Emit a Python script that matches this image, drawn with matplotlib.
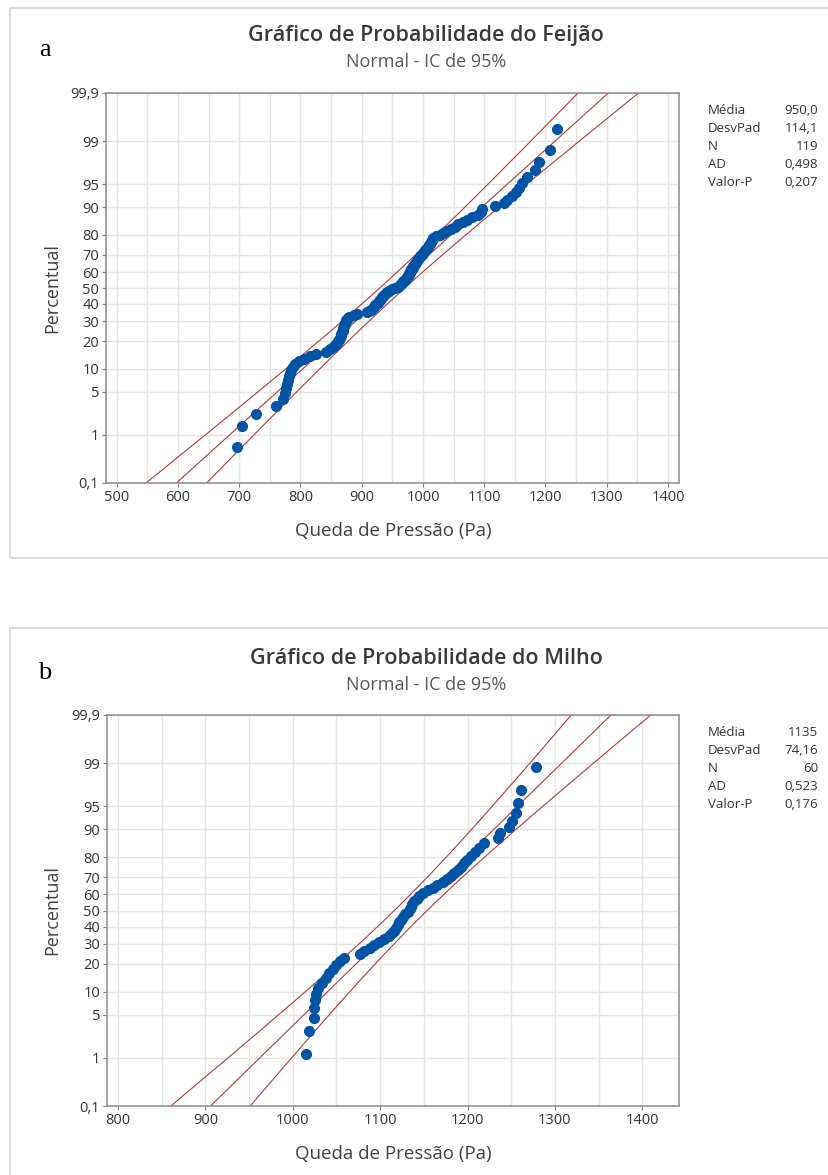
from statistics import NormalDist
import numpy as np
import matplotlib
matplotlib.use('Agg')
import matplotlib.pyplot as plt
from matplotlib.patches import Rectangle

plt.rcParams['font.family'] = ['Open Sans', 'DejaVu Sans']

# dados (Queda de Pressão, Pa), em ordem crescente
feijao_x = [696, 705, 728, 760, 772, 774, 776, 778, 779, 781,
            783, 785, 788, 791, 798, 806, 815, 826, 842, 848,
            853, 857, 859, 861, 863, 864, 866, 867, 868, 869,
            870, 870, 871, 872, 873, 874, 875, 877, 880, 888,
            893, 908, 912, 915, 918, 920, 922, 924, 926, 928,
            930, 932, 933, 935, 937, 939, 942, 945, 950, 955,
            960, 962, 964, 966, 968, 970, 972, 974, 975, 977,
            978, 979, 980, 981, 983, 984, 986, 987, 989, 990,
            992, 994, 996, 998, 1000, 1002, 1004, 1006, 1008, 1010,
            1011, 1013, 1014, 1016, 1022, 1028, 1033, 1038, 1045, 1052,
            1058, 1066, 1072, 1080, 1090, 1094, 1097, 1117, 1133, 1138,
            1145, 1152, 1157, 1162, 1170, 1183, 1190, 1207, 1219]
milho_x = [1015, 1019, 1024, 1024, 1025, 1027, 1029, 1033, 1038, 1042,
           1046, 1050, 1054, 1059, 1077, 1082, 1088, 1093, 1099, 1104,
           1110, 1114, 1116, 1118, 1120, 1122, 1124, 1126, 1129, 1132,
           1134, 1135, 1137, 1139, 1142, 1145, 1149, 1155, 1160, 1165,
           1172, 1177, 1181, 1185, 1189, 1193, 1196, 1199, 1204, 1208,
           1213, 1219, 1235, 1237, 1247, 1251, 1255, 1258, 1261, 1278]

# estatísticas mostradas na tabela
stat_names = ['Média', 'DesvPad', 'N', 'AD', 'Valor-P']
feijao_stats = ['950,0', '114,1', '119', '0,498', '0,207']
milho_stats = ['1135', '74,16', '60', '0,523', '0,176']
feijao_mean, feijao_sd = 950.0, 114.1
milho_mean, milho_sd = 1135.0, 74.16

pct_ticks = [0.1, 1, 5, 10, 20, 30, 40, 50, 60, 70, 80, 90, 95, 99, 99.9]
pct_labels = ['0,1', '1', '5', '10', '20', '30', '40', '50', '60', '70',
              '80', '90', '95', '99', '99,9']

W, H = 829, 1175
nd = NormalDist()


def fx(px):
    return px / W


def fy(py):
    return 1 - py / H


def prob_plot(ax, xs, mean, sd, xlim, xmajor):
    n = len(xs)
    # posição de Minitab (mediana de Benard)
    z = [nd.inv_cdf((i + 1 - 0.3) / (n + 0.4)) for i in range(n)]
    zlo, zhi = nd.inv_cdf(0.001), nd.inv_cdf(0.999)

    # reta ajustada e IC de 95%
    zz = np.linspace(zlo, zhi, 200)
    xfit = mean + sd * zz
    half = 1.96 * sd * np.sqrt(1.0 / n + zz ** 2 / (2.0 * (n - 1)))
    for xl in (xfit - half, xfit, xfit + half):
        ax.plot(xl, zz, color='#b03a3a', lw=0.8, zorder=2)

    ax.plot(xs, z, 'o', color='#0054a6', ms=7, mec='#0054a6', zorder=3)

    ax.set_xlim(*xlim)
    ax.set_ylim(zlo, zhi)
    ax.set_xticks(xmajor)
    ax.set_xticklabels([str(v) for v in xmajor])
    ax.set_xticks([v + 50 for v in xmajor[:-1]], minor=True)
    ax.set_yticks([nd.inv_cdf(p / 100.0) for p in pct_ticks])
    ax.set_yticklabels(pct_labels)
    ax.grid(True, which='both', color='#e4e4e4', lw=1.0, zorder=0)
    ax.set_axisbelow(True)
    ax.tick_params(which='major', length=3, width=0.8, color='#808080',
                   labelsize=10.5, labelcolor='#333333', pad=2)
    ax.tick_params(which='minor', length=0)
    for s in ax.spines.values():
        s.set_color('#8a8a8a')
        s.set_linewidth(1.1)


fig = plt.figure(figsize=(W / 100, H / 100), dpi=100)

# molduras dos dois painéis
fig.add_artist(Rectangle((fx(10), fy(558)), (W - 5) / W, 550 / H,
                         transform=fig.transFigure, fill=False,
                         ec='#d6d6d6', lw=1.2))
fig.add_artist(Rectangle((fx(10), fy(1185)), (W - 5) / W, 557 / H,
                         transform=fig.transFigure, fill=False,
                         ec='#d6d6d6', lw=1.2))

ax1 = fig.add_axes([fx(106), fy(483), 573 / W, 390 / H])
prob_plot(ax1, feijao_x, feijao_mean, feijao_sd, (482.6, 1418),
          list(range(500, 1401, 100)))

ax2 = fig.add_axes([fx(107), fy(1106), 572 / W, 391 / H])
prob_plot(ax2, milho_x, milho_mean, milho_sd, (787.4, 1442),
          list(range(800, 1401, 100)))

panels = [('a', 'Gráfico de Probabilidade do Feijão', feijao_stats, 0, 93, 483),
          ('b', 'Gráfico de Probabilidade do Milho', milho_stats, 623, 715, 1106)]
for letter, title, stats, dy, top, bot in panels:
    fig.text(fx(426), fy(35 + dy), title, ha='center', va='center',
             fontsize=15.5, fontweight='semibold', color='#3a3a3a')
    fig.text(fx(426), fy(62 + dy), 'Normal - IC de 95%', ha='center',
             va='center', fontsize=13, color='#595959')
    fig.text(fx(45), fy(50 + dy), letter, ha='center', va='center',
             fontsize=19, family='Liberation Serif', color='black')
    fig.text(fx(52), fy((top + bot) / 2), 'Percentual', rotation=90,
             ha='center', va='center', fontsize=13, color='#404040')
    fig.text(fx(393), fy(bot + 48), 'Queda de Pressão (Pa)', ha='center',
             va='center', fontsize=13.5, color='#404040')
    for k, (name, val) in enumerate(zip(stat_names, stats)):
        y = fy(top + 18 + 18 * k)
        fig.text(fx(708), y, name, ha='left', va='center', fontsize=9.5,
                 color='#333333')
        fig.text(fx(818), y, val, ha='right', va='center', fontsize=9.5,
                 color='#333333')

fig.savefig('out.png', dpi=100)
